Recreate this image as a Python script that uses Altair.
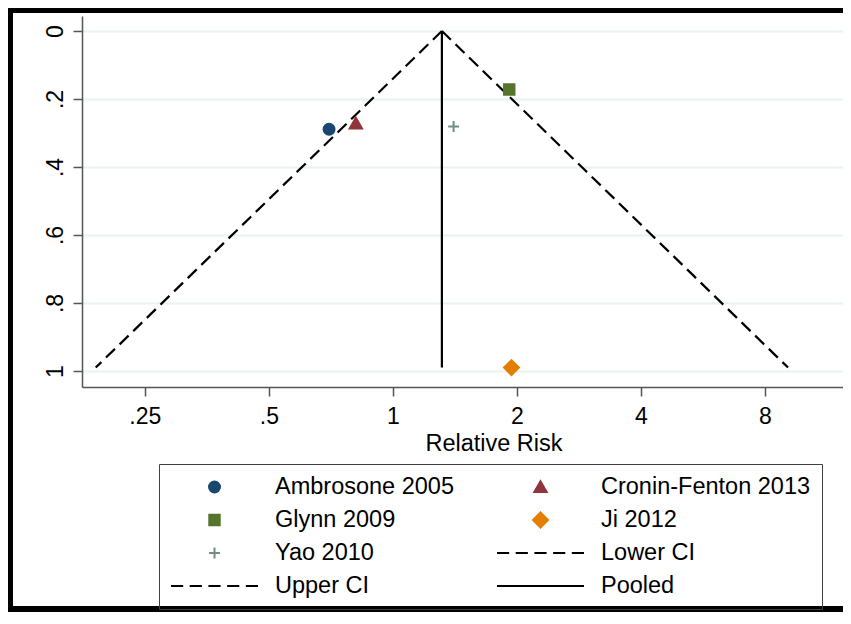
import altair as alt
import pandas as pd

# ---- data ----
studies = ["Ambrosone 2005", "Cronin-Fenton 2013", "Glynn 2009", "Ji 2012", "Yao 2010"]
study_rr = [0.700, 0.813, 1.916, 1.94, 1.404]
study_se = [0.289, 0.272, 0.172, 0.990, 0.281]
study_colors = ["#1a476f", "#90353b", "#55752f", "#e37e00", "#6e8e84"]

line_names = ["Lower CI", "Upper CI", "Pooled"]
line_rr_start = [1.315, 1.315, 1.315]
line_rr_end = [0.190, 9.10, 1.315]
line_se_start = [0.0, 0.0, 0.0]
line_se_end = [0.99, 0.99, 0.99]

x_ticks = [0.25, 0.5, 1, 2, 4, 8]
y_ticks = [0, 0.2, 0.4, 0.6, 0.8, 1]

FONT = "Liberation Sans"

# ---- tables ----
pts = pd.DataFrame({"label": studies, "rr": study_rr, "se": study_se})
rows = []
for n, r0, r1, s0, s1 in zip(line_names, line_rr_start, line_rr_end, line_se_start, line_se_end):
    rows.append({"series": n, "rr": r0, "se": s0, "step": 0})
    rows.append({"series": n, "rr": r1, "se": s1, "step": 1})
lines = pd.DataFrame(rows)

legend_domain = studies + line_names
shape_paths = [
    "M-0.126,0A0.126,0.126,0,1,1,0.126,0A0.126,0.126,0,1,1,-0.126,0Z",
    "M0,-0.13L0.142,0.116L-0.142,0.116Z",
    "M-0.12,-0.12H0.12V0.12H-0.12Z",
    "M0,-0.172L0.172,0L0,0.172L-0.172,0Z",
    "M-0.125,0H0.125M0,-0.125V0.125",
    "M-1,0H-0.72M-0.57,0H-0.29M-0.14,0H0.14M0.29,0H0.57M0.72,0H1",
    "M-1,0H-0.72M-0.57,0H-0.29M-0.14,0H0.14M0.29,0H0.57M0.72,0H1",
    "M-1,0H1",
]
fill_range = study_colors + ["#000000", "#000000", "#000000"]
stroke_range = study_colors + ["#000000", "#000000", "#000000"]

SYM = 87 * 87

def make_legend():
    return alt.Legend(
        title=None, orient="none", legendX=77, legendY=448, columns=2,
        direction="horizontal",
        symbolSize=SYM, symbolStrokeWidth=2, symbolOpacity=1,
        labelFont=FONT, labelFontSize=23.5, labelColor="#000000",
        labelOffset=16, labelLimit=0, rowPadding=9, columnPadding=42,
        padding=11, strokeColor="#404040", clipHeight=24,
    )

x_scale = alt.Scale(type="log", base=2, domain=[0.176, 12.37], nice=False, zero=False)
y_scale = alt.Scale(domain=[-0.0441, 1.0471], reverse=True, nice=False, zero=False)

x_axis = alt.Axis(
    values=x_ticks, grid=False, tickSize=9, labelPadding=9, labelFontSize=23,
    labelFlush=False, labelOverlap=False,
    labelExpr="datum.value < 1 ? replace(format(datum.value, '~g'), '0.', '.') : format(datum.value, '~g')",
    title="Relative Risk", titleFontSize=23.5, titleFontWeight="normal",
    titleX=411.5, titleY=63, titleBaseline="alphabetic", titleAlign="center",
)
y_axis = alt.Axis(
    values=y_ticks, grid=True, tickSize=9, labelAngle=270, labelAlign="center",
    labelBaseline="alphabetic", labelPadding=11, labelFontSize=23,
    labelFlush=False, labelOverlap=False,
    labelExpr="datum.value == 0 ? '0' : datum.value == 1 ? '1' : replace(format(datum.value, '.1f'), '0.', '.')",
    title=None,
)

line_layer = alt.Chart(lines).mark_line(strokeWidth=2.2, color="#000000", strokeCap="butt").encode(
    x=alt.X("rr:Q", scale=x_scale, axis=x_axis),
    y=alt.Y("se:Q", scale=y_scale, axis=y_axis),
    detail="series:N",
    order="step:Q",
    strokeDash=alt.StrokeDash("series:N", legend=None,
                              scale=alt.Scale(domain=line_names, range=[[12.5, 6.5], [12.5, 6.5], [1, 0]])),
)

point_layer = alt.Chart(pts).mark_point(filled=True, size=SYM, strokeWidth=2, opacity=1).encode(
    x=alt.X("rr:Q", scale=x_scale, axis=x_axis),
    y=alt.Y("se:Q", scale=y_scale, axis=y_axis),
    fill=alt.Fill("label:N", scale=alt.Scale(domain=legend_domain, range=fill_range), legend=make_legend()),
    stroke=alt.Stroke("label:N", scale=alt.Scale(domain=legend_domain, range=stroke_range), legend=make_legend()),
    shape=alt.Shape("label:N", scale=alt.Scale(domain=legend_domain, range=shape_paths), legend=make_legend()),
)

one = pd.DataFrame({"k": [0]})
frame_left = alt.Chart(one).mark_rule(color="#000000", strokeWidth=5).encode(
    x=alt.value(-71.5), y=alt.value(-8), y2=alt.value(596))
frame_top = alt.Chart(one).mark_rule(color="#000000", strokeWidth=5).encode(
    x=alt.value(-74), x2=alt.value(761), y=alt.value(-5.5))
frame_bottom = alt.Chart(one).mark_rule(color="#000000", strokeWidth=6).encode(
    x=alt.value(-74), x2=alt.value(761), y=alt.value(593))

chart = alt.layer(frame_left, frame_top, frame_bottom, line_layer, point_layer).properties(
    width=761, height=371,
    padding={"left": 74, "top": 8, "right": 0, "bottom": 225},
    autosize=alt.AutoSizeParams(type="none"),
).configure(
    font=FONT,
).configure_view(
    stroke="transparent",
).configure_axis(
    domainColor="#555555", domainWidth=1.5, tickColor="#555555", tickWidth=1.5,
    gridColor="#eaf2f3", gridWidth=2, labelColor="#000000", titleColor="#000000",
    labelFont=FONT, titleFont=FONT,
)

chart.save("out.html", embed_options={"renderer": "svg", "actions": False})
